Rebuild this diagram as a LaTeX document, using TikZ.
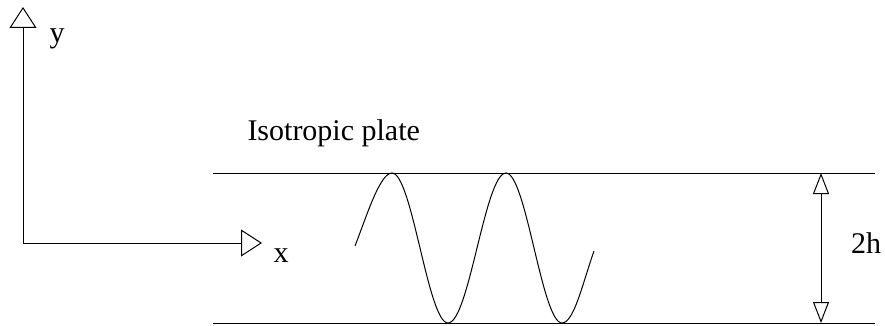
\documentclass[tikz,border=0pt]{standalone}
\usepackage{fontspec}
\setmainfont{Liberation Serif}
\usetikzlibrary{arrows.meta}
\tikzset{
  bigtip/.tip={Triangle[open,length=21pt,width=27pt]},
  smalltip/.tip={Triangle[open,length=21pt,width=16pt]}
}
\begin{document}
\begin{tikzpicture}[x=1pt,y=-1pt,
  line width=1pt,
  lbl/.style={font=\fontsize{30}{36}\selectfont, inner sep=0pt}]
\useasboundingbox (0,0) rectangle (885,326);
% axes
\coordinate (O) at (23,243);
\coordinate (Ytip) at (23,7);
\coordinate (Xtip) at (262,243);
\draw[bigtip-bigtip] (Ytip) -- (O) -- (Xtip);
\node[lbl, anchor=base] (ylab) at (57,43) {y};
\node[lbl, anchor=base] (xlab) at (281,262) {x};
% plate
\coordinate (TL) at (213,173);
\coordinate (TR) at (875,173);
\coordinate (BL) at (213,323);
\coordinate (BR) at (875,323);
\draw (TL) -- (TR);
\draw (BL) -- (BR);
\node[lbl, anchor=base west] (plate) at (247,140) {Isotropic plate};
% wave
\coordinate (S) at (355,246);
\coordinate (P1) at (392,173);
\coordinate (T1) at (448,323);
\coordinate (P2) at (506,173);
\coordinate (T2) at (562,323);
\coordinate (E) at (594,251);
\draw (S) .. controls (367,215) and (380,173) .. (P1)
  .. controls (412,173) and (428,323) .. (T1)
  .. controls (469,323) and (485,173) .. (P2)
  .. controls (526,173) and (542,323) .. (T2)
  .. controls (574,323) and (583,282) .. (E);
% thickness
\coordinate (DT) at (821,173);
\coordinate (DB) at (821,323);
\draw[smalltip-smalltip] (DT) -- (DB);
\node[lbl, anchor=base] (h) at (866,253) {2h};
\end{tikzpicture}
\end{document}
